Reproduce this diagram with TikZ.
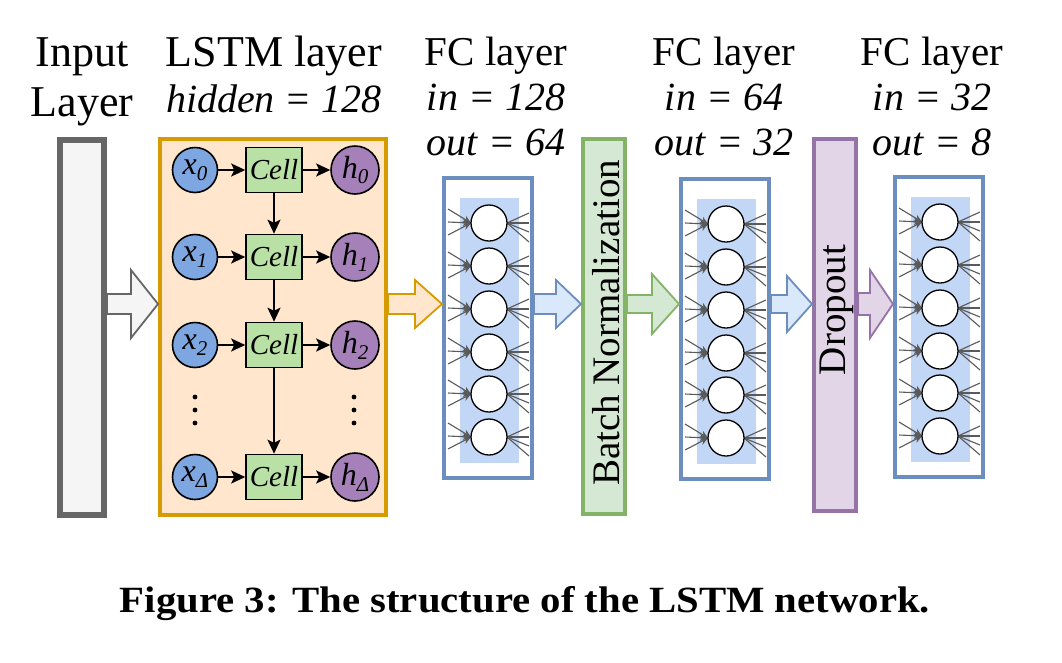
\documentclass[tikz,border=0pt]{standalone}
\usepackage{fontspec}
\setmainfont{Liberation Serif}
\usetikzlibrary{arrows.meta,calc}
\definecolor{grayS}{HTML}{666666}\definecolor{grayF}{HTML}{F5F5F5}
\definecolor{orS}{HTML}{D79B00}\definecolor{orF}{HTML}{FFE6CC}
\definecolor{blS}{HTML}{6C8EBF}\definecolor{blF}{HTML}{DAE8FC}
\definecolor{grS}{HTML}{82B366}\definecolor{grF}{HTML}{D5E8D4}
\definecolor{puS}{HTML}{9673A6}\definecolor{puF}{HTML}{E1D5E7}
\definecolor{xF}{HTML}{7EA6E0}\definecolor{hF}{HTML}{A680B8}
\definecolor{cellF}{HTML}{B9E0A5}\definecolor{innerF}{HTML}{C2D6F5}
\definecolor{fan}{HTML}{5A5A5A}
\newcommand\barrow[6]{%
  \draw[#1] ($(#2|-yl)+(0,-#5)$) -- ($(#3|-yl)+(-#4,-#5)$) -- ($(#3|-yl)+(-#4,-#6)$) -- (#3|-yl)
   -- ($(#3|-yl)+(-#4,#6)$) -- ($(#3|-yl)+(-#4,#5)$) -- ($(#2|-yl)+(0,#5)$) -- cycle;}
\newcommand\bigf{\fontsize{44}{48}\selectfont}
\newcommand\midf{\fontsize{41}{45}\selectfont}
\newcommand\itf{\fontsize{40}{45}\selectfont\itshape}
\newcommand\subf{\fontsize{21}{21}\selectfont}
\begin{document}
\begin{tikzpicture}[x=1pt,y=-1pt,
  hdr/.style={anchor=base,inner sep=0,font=\midf},
  hdrb/.style={hdr,font=\bigf},
  hdri/.style={hdr,font=\itf},
  bigbox/.style={draw,inner sep=0,line width=4pt},
  xnode/.style={circle,draw,line width=1.6pt,fill=xF,minimum size=45,inner sep=0,font=\fontsize{32}{32}\selectfont\itshape},
  hnode/.style={circle,draw,line width=1.6pt,fill=hF,minimum size=48,inner sep=0,font=\fontsize{32}{32}\selectfont\itshape},
  cellbox/.style={draw,line width=1.6pt,fill=cellF,minimum width=56,minimum height=45,inner sep=0,font=\fontsize{29}{29}\selectfont\itshape},
  conn/.style={line width=1.8pt,-{Stealth[length=14pt,width=13pt,inset=3pt]}},
  neuron/.style={circle,draw,line width=1.3pt,fill=white,minimum size=36,inner sep=0},
  fanin/.style={draw=fan,line width=1.1pt,-{Stealth[length=8pt,width=7pt]}},
  fanout/.style={draw=fan,line width=1.1pt},
  barr/.style={line width=1.8pt,line join=miter},
  vtext/.style={rotate=90,inner sep=0,font=\fontsize{39}{45}\selectfont}
]
\useasboundingbox (0,0) rectangle (1062,662);
\coordinate (yl) at (0,304);

% headers
\node[hdrb] (t1a) at (82,66) {Input};
\node[hdrb] (t1b) at (82,116) {Layer};
\node[hdrb] (t2a) at (274,66) {LSTM layer};
\node[hdri] (t2b) at (274,112) {hidden = 128};
\node[hdr] (t3a) at (496,65) {FC layer};
\node[hdri] (t3b) at (496,110) {in = 128};
\node[hdri] (t3c) at (496,155) {out = 64};
\node[hdr] (t4a) at (724,65) {FC layer};
\node[hdri] (t4b) at (724,110) {in = 64};
\node[hdri] (t4c) at (724,155) {out = 32};
\node[hdr] (t5a) at (932,65) {FC layer};
\node[hdri] (t5b) at (932,110) {in = 32};
\node[hdri] (t5c) at (932,155) {out = 8};

% main boxes
\node[bigbox,line width=6pt,draw=grayS,fill=grayF,minimum width=44,minimum height=375] (inp) at (82,327.5) {};
\node[bigbox,draw=orS,fill=orF,minimum width=226,minimum height=376] (lstm) at (273,327) {};
\node[bigbox,draw=grS,fill=grF,minimum width=42,minimum height=375] (bn) at (604,326.5) {};
\node[vtext] (bntxt) at (606,323) {Batch Normalization};
\node[bigbox,draw=puS,fill=puF,minimum width=42,minimum height=372] (drop) at (835,325) {};
\node[vtext] (droptxt) at (837,310) {Dropout};

% FC layers
\foreach \fc/\cx/\cy in {fc1/488/328,fc2/725/329,fc3/939/327}{
  \node[bigbox,draw=blS,fill=white,minimum width=88,minimum height=300] (\fc) at (\cx,\cy) {};
  \fill[innerF] ($(\fc.center)+(-28,-130)$) rectangle ($(\fc.center)+(31,135)$);
  \foreach \i/\dy in {1/-105,2/-62,3/-19,4/24,5/66,6/109}{
    \coordinate (\fc-c\i) at ($(\fc.center)+(1,\dy)$);
    \draw[fanin] ($(\fc-c\i)+(-41,-14)$) -- ($(\fc-c\i)+(-18,0)$);
    \draw[fanin] ($(\fc-c\i)+(-41,-1)$) -- ($(\fc-c\i)+(-18,0)$);
    \draw[fanin] ($(\fc-c\i)+(-41,12)$) -- ($(\fc-c\i)+(-18,0)$);
    \foreach \ry in {-10,0,9,19}{
      \draw[fanout] ($(\fc-c\i)+(18,0)$) -- ($(\fc-c\i)+(40,\ry)$);
    }
    \node[neuron] (\fc-n\i) at (\fc-c\i) {};
  }
}

% block arrows
\barrow{barr,draw=grayS,fill=grayF}{inp.east}{lstm.west}{27}{10}{34}
\barrow{barr,draw=orS,fill=orF}{lstm.east}{fc1.west}{27}{10}{24}
\barrow{barr,draw=blS,fill=blF}{fc1.east}{bn.west}{25}{10}{24}
\barrow{barr,draw=grS,fill=grF}{bn.east}{fc2.west}{27}{9}{30}
\barrow{barr,draw=blS,fill=blF}{fc2.east}{drop.west}{25}{9}{28}
\barrow{barr,draw=puS,fill=puF}{drop.east}{fc3.west}{23}{11}{34}

% LSTM internals
\foreach \r/\y/\s in {0/170/0,1/257/1,2/345/2,3/477/{\textit{Δ}}}{
  \node[xnode] (x\r) at (195,\y) {x\raisebox{-0.4ex}{\subf\s}};
  \node[cellbox] (c\r) at (274,\y) {Cell};
  \node[hnode] (h\r) at (355,\y) {h\raisebox{-0.4ex}{\subf\s}};
  \draw[conn] (x\r) -- (c\r);
  \draw[conn] (c\r) -- (h\r);
}
\draw[conn] (c0) -- (c1);
\draw[conn] (c1) -- (c2);
\draw[conn] (c2) -- (c3);
\foreach \xx in {195,354}{
  \foreach \yy in {397,410,423}{ \fill (\xx,\yy) circle (2.4); }
}

% caption
\node[anchor=base,inner sep=0] (cap) at (525,612) {\resizebox{810pt}{\height}{\fontsize{37}{40}\selectfont\bfseries Figure 3: The structure of the LSTM network.}};
\end{tikzpicture}
\end{document}
